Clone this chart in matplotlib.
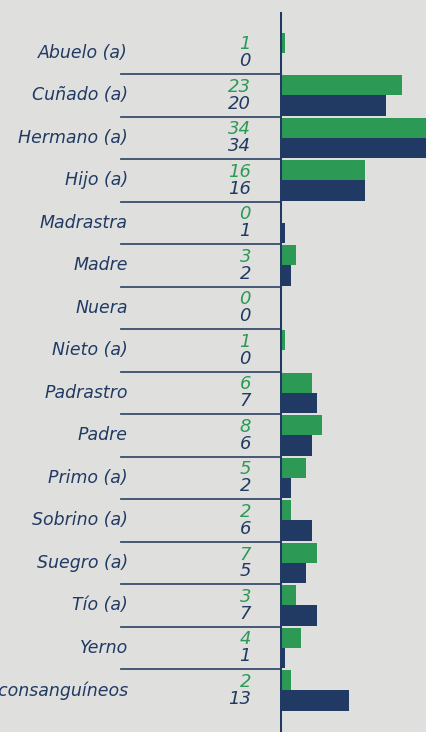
import numpy as np
import matplotlib.pyplot as plt

# parentesco con el agresor: dos series por categoría
categorias = ['Abuelo (a)', 'Cuñado (a)', 'Hermano (a)', 'Hijo (a)', 'Madrastra',
              'Madre', 'Nuera', 'Nieto (a)', 'Padrastro', 'Padre', 'Primo (a)',
              'Sobrino (a)', 'Suegro (a)', 'Tío (a)', 'Yerno', 'No consanguíneos']
serie_verde = [1, 23, 34, 16, 0, 3, 0, 1, 6, 8, 5, 2, 7, 3, 4, 2]
serie_azul = [0, 20, 34, 16, 1, 2, 0, 0, 7, 6, 2, 6, 5, 7, 1, 13]

VERDE = '#2c9a55'
AZUL = '#213a63'
FONDO = '#dfe0de'

W, H = 427, 732
fig = plt.figure(figsize=(W / 100, H / 100), dpi=100)
fig.patch.set_facecolor(FONDO)

# geometría en píxeles
x_eje = 280          # línea vertical donde empiezan las barras
px_unidad = 5.3      # ancho de barra por unidad
y_fila0 = 53         # centro de la primera fila
paso = 42.5          # separación entre filas

n = len(categorias)
y = np.arange(n)
ylim = ((H - y_fila0) / paso, -y_fila0 / paso)

# capa de texto y separadores (coordenadas x en píxeles)
ax_t = fig.add_axes([0, 0, 1, 1])
ax_t.set_xlim(0, W)
ax_t.set_ylim(*ylim)
ax_t.axis('off')

# capa de barras
ax = fig.add_axes([x_eje / W, 0, (W - x_eje) / W, 1])
ax.set_xlim(0, (W - x_eje) / px_unidad)
ax.set_ylim(*ylim)
ax.axis('off')
ax.patch.set_alpha(0)

h = 0.48
ax.barh(y - h / 2, serie_verde, height=h, color=VERDE, zorder=2)
ax.barh(y + h / 2, serie_azul, height=h, color=AZUL, zorder=2)
ax.axvline(0, ymin=0, ymax=1 - 13 / H, color=AZUL, lw=2.2, zorder=3)

fuente = 'DejaVu Sans'
for i, (cat, v, a) in enumerate(zip(categorias, serie_verde, serie_azul)):
    ax_t.text(128, i, cat, ha='right', va='center', fontsize=12.5,
              style='italic', color=AZUL, family=fuente)
    ax_t.text(251, i - 0.2, str(v), ha='right', va='center', fontsize=13,
              style='italic', color=VERDE, family=fuente)
    ax_t.text(251, i + 0.2, str(a), ha='right', va='center', fontsize=13,
              style='italic', color=AZUL, family=fuente)
    if i < n - 1:
        ax_t.plot([121, x_eje], [i + 0.5, i + 0.5], color='#3a4d70', lw=1.3)

fig.savefig('out.png', dpi=100, facecolor=FONDO)
